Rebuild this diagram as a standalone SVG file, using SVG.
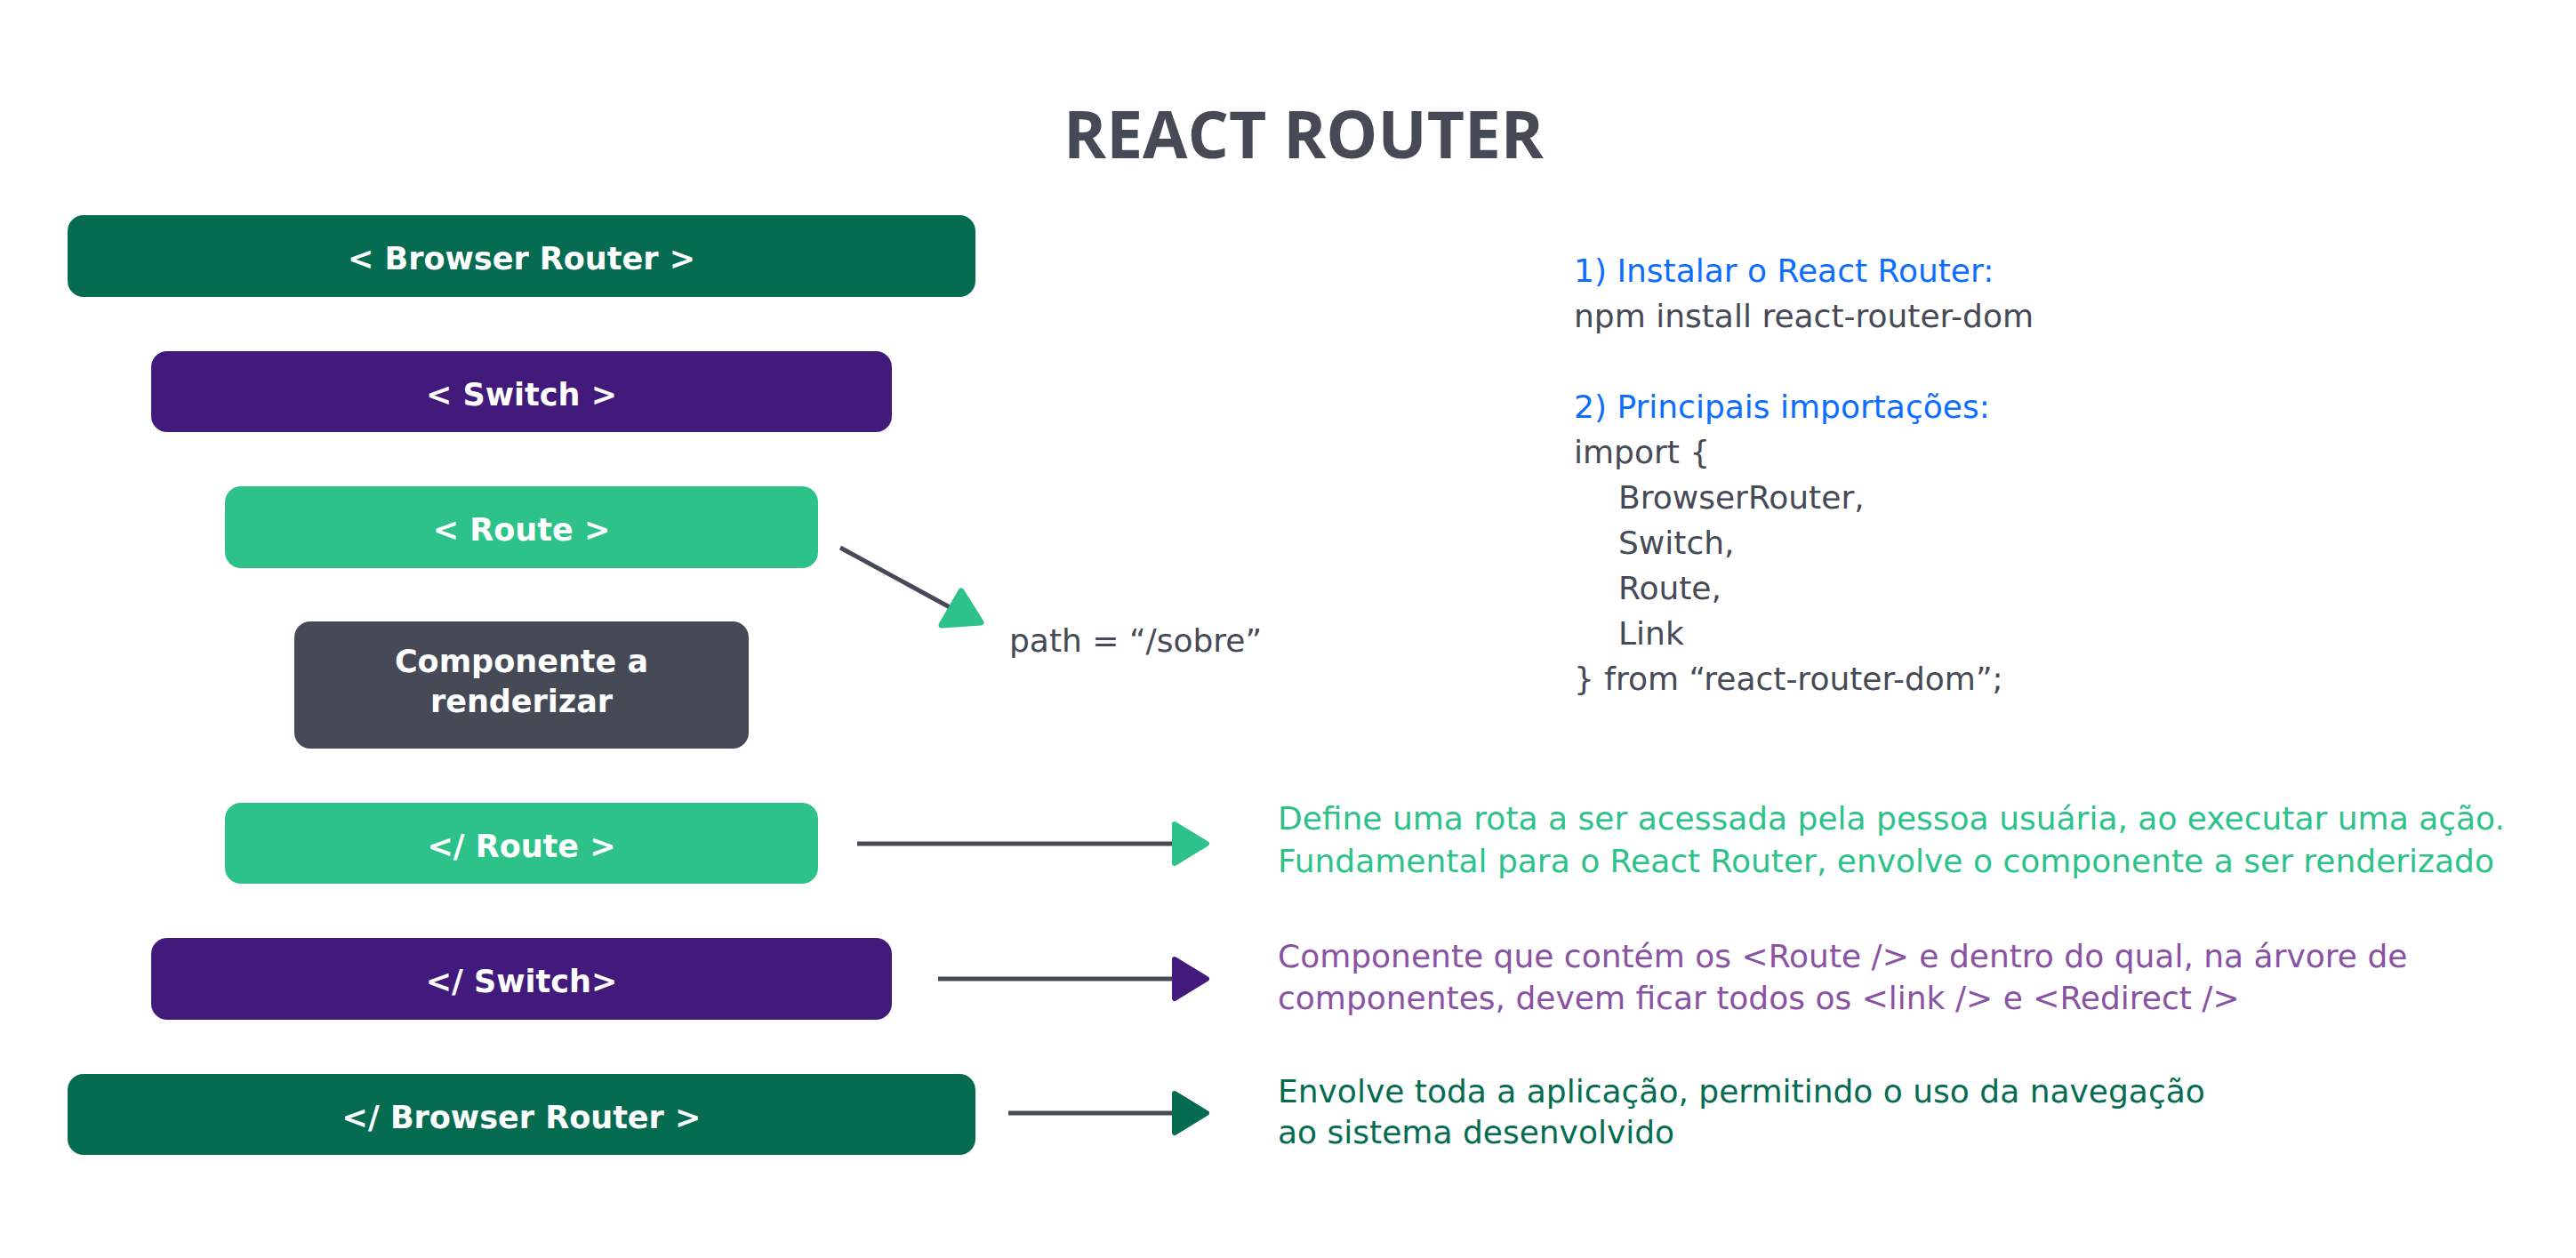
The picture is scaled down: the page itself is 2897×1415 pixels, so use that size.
<svg xmlns="http://www.w3.org/2000/svg" width="2897" height="1415" viewBox="0 0 2897 1415">
<style>
.title{font-family:"Open Sans","Noto Sans",sans-serif;font-weight:700;font-size:73px;fill:#464a56}
.lbl{font-family:"DejaVu Sans","Verdana",sans-serif;font-weight:700;font-size:35px;fill:#ffffff;text-anchor:middle}
.txt{font-family:"DejaVu Sans","Verdana",sans-serif;font-size:36px}
.gray{fill:#464a56}
.blue{fill:#0d6efd}
.lg{fill:#2ec28b}
.pu{fill:#8a52a3}
.dg{fill:#056c52}
.line{stroke:#464a56;stroke-width:5;fill:none}
</style>
<defs>
<marker id="ah-lg" markerUnits="userSpaceOnUse" markerWidth="50" markerHeight="60" refX="3" refY="25" orient="auto" viewBox="0 0 50 50">
<path d="M3,3 L39,25 L3,47 Z" fill="#2ec28b" stroke="#2ec28b" stroke-width="6" stroke-linejoin="round"/>
</marker>
<marker id="ah-pu" markerUnits="userSpaceOnUse" markerWidth="50" markerHeight="60" refX="3" refY="25" orient="auto" viewBox="0 0 50 50">
<path d="M3,3 L39,25 L3,47 Z" fill="#421a7c" stroke="#421a7c" stroke-width="6" stroke-linejoin="round"/>
</marker>
<marker id="ah-dg" markerUnits="userSpaceOnUse" markerWidth="50" markerHeight="60" refX="3" refY="25" orient="auto" viewBox="0 0 50 50">
<path d="M3,3 L39,25 L3,47 Z" fill="#056c52" stroke="#056c52" stroke-width="6" stroke-linejoin="round"/>
</marker>
</defs>
<rect width="2897" height="1415" fill="#ffffff"/>
<text class="title" x="1466" y="178" text-anchor="middle">REACT ROUTER</text>

<g id="browser-router-open">
<rect x="76" y="242" width="1021" height="92" rx="18" fill="#056c52"/>
<text class="lbl" x="586.5" y="303">&lt; Browser Router &gt;</text>
</g>
<g id="switch-open">
<rect x="170" y="395" width="833" height="91" rx="18" fill="#421a7c"/>
<text class="lbl" x="586.5" y="456">&lt; Switch &gt;</text>
</g>
<g id="route-open">
<rect x="253" y="547" width="667" height="92" rx="18" fill="#2ec28b"/>
<text class="lbl" x="586.5" y="608">&lt; Route &gt;</text>
</g>
<g id="componente">
<rect x="331" y="699" width="511" height="143" rx="18" fill="#464a56"/>
<text class="lbl" x="586.5" y="756">Componente a</text>
<text class="lbl" x="586.5" y="801">renderizar</text>
</g>
<g id="route-close">
<rect x="253" y="903" width="667" height="91" rx="18" fill="#2ec28b"/>
<text class="lbl" x="586.5" y="964">&lt;/ Route &gt;</text>
</g>
<g id="switch-close">
<rect x="170" y="1055" width="833" height="92" rx="18" fill="#421a7c"/>
<text class="lbl" x="586.5" y="1116">&lt;/ Switch&gt;</text>
</g>
<g id="browser-router-close">
<rect x="76" y="1208" width="1021" height="91" rx="18" fill="#056c52"/>
<text class="lbl" x="586.5" y="1269">&lt;/ Browser Router &gt;</text>
</g>

<g id="connectors">
<line class="line" x1="945" y1="616" x2="1068" y2="683"/>
<polygon points="1081,665 1103,700 1059,703" fill="#2ec28b" stroke="#2ec28b" stroke-width="7" stroke-linejoin="round"/>
<line class="line" x1="964" y1="949" x2="1321" y2="949" marker-end="url(#ah-lg)"/>
<line class="line" x1="1055" y1="1101" x2="1321" y2="1101" marker-end="url(#ah-pu)"/>
<line class="line" x1="1134" y1="1252" x2="1321" y2="1252" marker-end="url(#ah-dg)"/>
</g>

<text class="txt gray" x="1135" y="733">path = “/sobre”</text>

<g id="code">
<text class="txt blue" x="1770" y="317">1) Instalar o React Router:</text>
<text class="txt gray" x="1770" y="368">npm install react-router-dom</text>
<text class="txt blue" x="1770" y="470">2) Principais importações:</text>
<text class="txt gray" x="1770" y="521">import {</text>
<text class="txt gray" x="1820" y="572">BrowserRouter,</text>
<text class="txt gray" x="1820" y="623">Switch,</text>
<text class="txt gray" x="1820" y="674">Route,</text>
<text class="txt gray" x="1820" y="725">Link</text>
<text class="txt gray" x="1770" y="776">} from “react-router-dom”;</text>
</g>

<g id="desc-route">
<text class="txt lg" x="1437" y="933">Define uma rota a ser acessada pela pessoa usuária, ao executar uma ação.</text>
<text class="txt lg" x="1437" y="981">Fundamental para o React Router, envolve o componente a ser renderizado</text>
</g>
<g id="desc-switch">
<text class="txt pu" x="1437" y="1088">Componente que contém os &lt;Route /&gt; e dentro do qual, na árvore de</text>
<text class="txt pu" x="1437" y="1135">componentes, devem ficar todos os &lt;link /&gt; e &lt;Redirect /&gt;</text>
</g>
<g id="desc-browser">
<text class="txt dg" x="1437" y="1240">Envolve toda a aplicação, permitindo o uso da navegação</text>
<text class="txt dg" x="1437" y="1286">ao sistema desenvolvido</text>
</g>
</svg>
